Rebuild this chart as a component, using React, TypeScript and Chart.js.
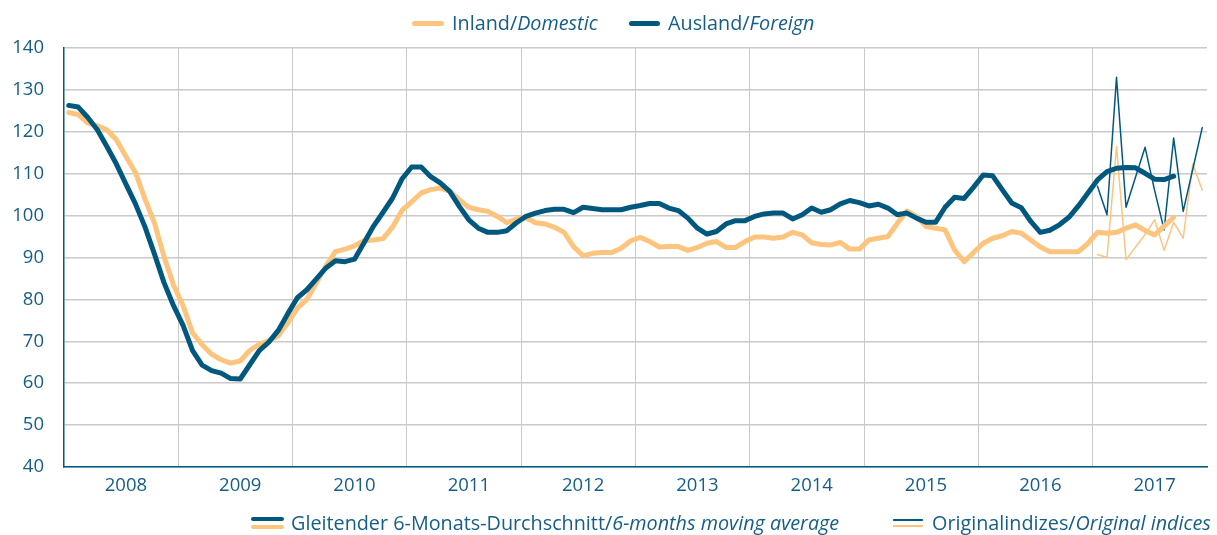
import React, { useEffect, useRef } from 'react';
import { Chart, registerables } from 'chart.js';

Chart.register(...registerables);

// x categories: monthly, 2008 – 2017
const years = ['2008', '2009', '2010', '2011', '2012', '2013', '2014', '2015', '2016', '2017'];

// 6-months moving average, foreign (Ausland), from Jan 2008
const foreignMA = [
  126.3, 125.9, 123.4, 120.5, 116.5, 112.3, 107.5, 102.8, 97.3, 90.8, 84.0, 78.5,
  73.8, 67.8, 64.3, 63.0, 62.4, 61.1, 61.0, 64.4, 67.8, 69.8, 72.6, 76.6,
  80.4, 82.3, 84.9, 87.5, 89.2, 89.0, 89.6, 93.5, 97.5, 100.8, 104.2, 108.8,
  111.6, 111.6, 109.3, 107.8, 105.8, 102.2, 99.0, 97.0, 96.0, 96.0, 96.4, 98.3,
  99.8, 100.6, 101.2, 101.5, 101.5, 100.7, 102.0, 101.7, 101.4, 101.4, 101.4, 102.0,
  102.4, 102.9, 102.9, 101.8, 101.2, 99.4, 97.0, 95.6, 96.2, 98.0, 98.8, 98.8,
  99.8, 100.4, 100.6, 100.6, 99.2, 100.2, 101.8, 100.8, 101.4, 102.8, 103.6, 103.1,
  102.3, 102.7, 101.8, 100.2, 100.6, 99.4, 98.4, 98.4, 102.0, 104.4, 104.1, 106.8,
  109.7, 109.5, 106.2, 103.0, 101.9, 98.6, 96.0, 96.5, 97.8, 99.6, 102.3, 105.4,
  108.5, 110.5, 111.3, 111.5, 111.4, 110.1, 108.7, 108.6, 109.4,
];

// 6-months moving average, domestic (Inland), from Jan 2008
const domesticMA = [
  124.6, 124.1, 122.1, 121.4, 120.5, 118.1, 114.1, 110.3, 104.0, 98.2, 90.2, 83.4,
  78.5, 72.0, 69.2, 66.9, 65.6, 64.8, 65.3, 67.8, 69.3, 70.1, 71.3, 74.4,
  77.9, 80.0, 84.0, 88.0, 91.4, 92.0, 92.8, 94.0, 94.2, 94.5, 97.3, 101.3,
  103.3, 105.4, 106.2, 106.6, 105.8, 103.8, 102.0, 101.4, 101.0, 99.8, 98.3, 99.2,
  99.5, 98.3, 98.0, 97.2, 96.0, 92.6, 90.4, 91.0, 91.2, 91.2, 92.2, 94.0,
  94.8, 93.8, 92.5, 92.6, 92.6, 91.7, 92.4, 93.4, 93.8, 92.4, 92.4, 93.8,
  94.9, 94.9, 94.6, 94.9, 96.0, 95.4, 93.5, 93.1, 93.0, 93.6, 92.0, 92.0,
  94.2, 94.6, 95.0, 98.2, 101.1, 99.8, 97.4, 97.0, 96.6, 91.8, 89.0, 91.2,
  93.4, 94.6, 95.2, 96.2, 95.8, 94.2, 92.5, 91.4, 91.4, 91.4, 91.4, 93.4,
  96.0, 95.8, 96.0, 97.0, 97.8, 96.4, 95.4, 97.5, 99.6,
];

// original indices, 2017 (Jan – Dec)
const foreignOrig = [107.0, 100.2, 133.0, 102.0, 109.2, 116.3, 106.0, 96.6, 118.5, 101.0, 111.0, 121.0];
const domesticOrig = [90.7, 90.0, 116.5, 89.5, 92.5, 95.5, 99.0, 91.7, 98.4, 94.6, 112.3, 106.1];
const origStartYear = '2017';

const BLUE = '#00587f';
const ORANGE = '#fdc47d';
const TEXT = '#155e87';
const GRID = '#cacaca';
const FONT = "'Open Sans', sans-serif";

const months: string[] = years.flatMap((y) =>
  Array.from({ length: 12 }, (_, m) => `${y}-${String(m + 1).padStart(2, '0')}`)
);
const N = months.length;

function place(values: number[], start: number): (number | null)[] {
  return months.map((_, i) => (i >= start && i - start < values.length ? values[i - start] : null));
}

const origStart = years.indexOf(origStartYear) * 12;

function Legend({ left, top, children }: { left: number; top: number; children: React.ReactNode }) {
  return (
    <div
      style={{
        position: 'absolute',
        left,
        top,
        height: 26,
        display: 'flex',
        alignItems: 'center',
        whiteSpace: 'nowrap',
        fontSize: 19.8,
        lineHeight: '26px',
      }}
    >
      {children}
    </div>
  );
}

function Bar({ w, h, color, mr }: { w: number; h: number; color: string; mr: number }) {
  return <div style={{ width: w, height: h, background: color, borderRadius: h / 2, marginRight: mr, flex: 'none' }} />;
}

function DoubleBar({ w, h, gap, mr }: { w: number; h: number; gap: number; mr: number }) {
  return (
    <div style={{ width: w, marginRight: mr, display: 'flex', flexDirection: 'column', flex: 'none' }}>
      <div style={{ width: w, height: h, background: BLUE, borderRadius: h / 2 }} />
      <div style={{ width: w, height: gap }} />
      <div style={{ width: w, height: h, background: ORANGE, borderRadius: h / 2 }} />
    </div>
  );
}

export default function App() {
  const ref = useRef<HTMLCanvasElement | null>(null);

  useEffect(() => {
    if (!ref.current) return;
    const chart = new Chart(ref.current, {
      type: 'line',
      data: {
        labels: months,
        datasets: [
          { label: 'Ausland 6M', data: place(foreignMA, 0), borderColor: BLUE, borderWidth: 5, order: 0 },
          { label: 'Inland 6M', data: place(domesticMA, 0), borderColor: ORANGE, borderWidth: 5, order: 1 },
          { label: 'Ausland orig', data: place(foreignOrig, origStart), borderColor: BLUE, borderWidth: 1.5, order: 2 },
          { label: 'Inland orig', data: place(domesticOrig, origStart), borderColor: ORANGE, borderWidth: 1.5, order: 3 },
        ],
      },
      options: {
        responsive: false,
        animation: false,
        layout: { padding: { top: 48, right: 10, left: 0, bottom: 0 } },
        plugins: { legend: { display: false }, tooltip: { enabled: false } },
        elements: {
          point: { radius: 0, hoverRadius: 0 },
          line: { tension: 0, borderCapStyle: 'round', borderJoinStyle: 'round', fill: false },
        },
        scales: {
          x: {
            type: 'category',
            offset: true,
            grid: {
              offset: true,
              drawTicks: false,
              lineWidth: 1,
              color: (ctx: any) =>
                ctx.index > 0 && ctx.index < N && ctx.index % 12 === 0 ? GRID : 'rgba(0,0,0,0)',
            },
            border: { color: BLUE, width: 1.5 },
            ticks: {
              autoSkip: false,
              maxRotation: 0,
              minRotation: 0,
              padding: 8,
              color: TEXT,
              font: { family: FONT, size: 18.5 },
              callback: (_v: any, i: number) => (i % 12 === 6 ? years[Math.floor(i / 12)] : ''),
            },
            afterFit: (s: any) => {
              s.height = 68;
            },
          },
          y: {
            min: 40,
            max: 140,
            ticks: { stepSize: 10, padding: 20, color: TEXT, font: { family: FONT, size: 18.5 } },
            grid: { color: GRID, lineWidth: 1.5, drawTicks: false },
            border: { color: BLUE, width: 1.5 },
            afterFit: (s: any) => {
              s.width = 64;
            },
          },
        },
      } as any,
    });
    return () => chart.destroy();
  }, []);

  return (
    <div
      style={{
        position: 'absolute',
        left: 0,
        top: 0,
        width: 1217,
        height: 535,
        background: '#fff',
        fontFamily: FONT,
        color: TEXT,
        overflow: 'hidden',
      }}
    >
      <canvas ref={ref} width={1217} height={535} style={{ position: 'absolute', left: 0, top: 0 }} />
      <Legend left={412} top={10}>
        <Bar w={32} h={5} color={ORANGE} mr={8} />
        <span>Inland/</span>
        <i>Domestic</i>
      </Legend>
      <Legend left={629} top={10}>
        <Bar w={31} h={5} color={BLUE} mr={8} />
        <span>Ausland/</span>
        <i>Foreign</i>
      </Legend>
      <Legend left={251} top={510}>
        <DoubleBar w={33} h={4} gap={4.5} mr={7} />
        <span>Gleitender 6-Monats-Durchschnitt/</span>
        <i>6-months moving average</i>
      </Legend>
      <Legend left={893} top={510}>
        <DoubleBar w={30} h={1.5} gap={4.5} mr={9} />
        <span>Originalindizes/</span>
        <i>Original indices</i>
      </Legend>
    </div>
  );
}
